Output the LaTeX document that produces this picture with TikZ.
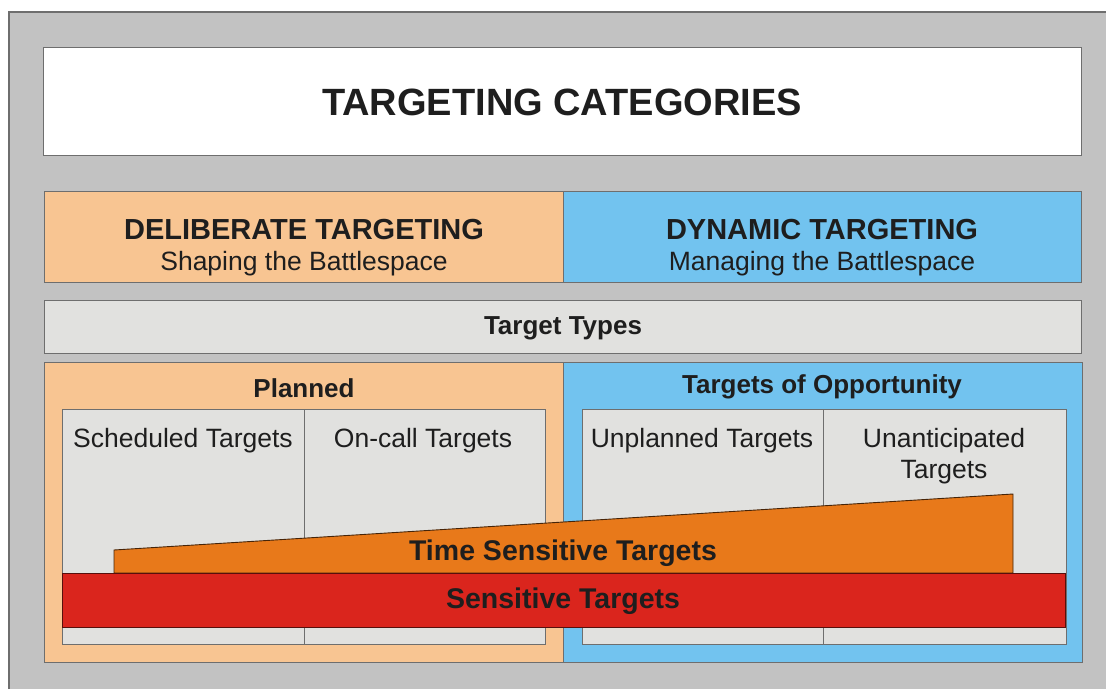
\documentclass[tikz,border=0pt]{standalone}
\usepackage{fontspec}
\setmainfont{Liberation Sans}
\definecolor{bggray}{HTML}{C2C2C2}
\definecolor{peach}{HTML}{F8C592}
\definecolor{skyblue}{HTML}{72C3EF}
\definecolor{lightgray}{HTML}{E1E1DF}
\definecolor{tsorange}{HTML}{E8791A}
\definecolor{sred}{HTML}{DA251D}
\definecolor{edgegray}{HTML}{6E6E6E}
\definecolor{ink}{HTML}{1E1E1E}
\begin{document}
\begin{tikzpicture}[x=1pt,y=-1pt,
  box/.style={draw=edgegray, line width=1.3pt, inner sep=0pt, anchor=north west},
  hdr/.style={text=ink, font=\fontsize{29}{33}\selectfont\bfseries},
  sub/.style={text=ink, font=\fontsize{26.5}{30}\selectfont},
  bhd/.style={text=ink, font=\fontsize{26}{30}\selectfont\bfseries},
  cell/.style={text=ink, font=\fontsize{26.5}{30}\selectfont, align=center}]
\useasboundingbox (0,0) rectangle (1106,689);
% background panel
\fill[bggray] (9,12) rectangle (1106,689);
\draw[edgegray, line width=1.2pt] (9,689) -- (9,12) -- (1106,12);
% title
\node[box, fill=white, minimum width=1038pt, minimum height=108pt] (titlebox) at (43,47) {};
\node[text=ink, font=\fontsize{38}{42}\selectfont\bfseries] (title) at (562,102) {TARGETING CATEGORIES};
% categories
\node[box, fill=peach, minimum width=519pt, minimum height=91pt] (delib) at (44,191) {};
\node[box, fill=skyblue, minimum width=518pt, minimum height=91pt] (dyn) at (563,191) {};
\node[hdr] (delibT) at (304,229.5) {DELIBERATE TARGETING};
\node[sub] (delibS) at (304,264) {Shaping the Battlespace};
\node[hdr] (dynT) at (822,229.5) {DYNAMIC TARGETING};
\node[sub] (dynS) at (822,264) {Managing the Battlespace};
% target types
\node[box, fill=lightgray, minimum width=1037pt, minimum height=53pt] (types) at (44,300) {};
\node[bhd] (typesT) at (563,328) {Target Types};
% planned / opportunity
\node[box, fill=peach, minimum width=519pt, minimum height=300pt] (planned) at (44,362) {};
\node[box, fill=skyblue, minimum width=519pt, minimum height=300pt] (opp) at (563,362) {};
\node[bhd] (plannedT) at (304,388) {Planned};
\node[bhd] (oppT) at (822,387) {Targets of Opportunity};
% cells
\node[box, fill=lightgray, minimum width=242pt, minimum height=235pt] (sched) at (62,409) {};
\node[box, fill=lightgray, minimum width=241pt, minimum height=235pt] (oncall) at (304,409) {};
\node[box, fill=lightgray, minimum width=241pt, minimum height=235pt] (unpl) at (582,409) {};
\node[box, fill=lightgray, minimum width=243pt, minimum height=235pt] (unant) at (823,409) {};
\node[cell] (schedT) at (183,441) {Scheduled Targets};
\node[cell] (oncallT) at (423,441) {On-call Targets};
\node[cell] (unplT) at (702,441) {Unplanned Targets};
\node[cell] (unantT1) at (944,441) {Unanticipated};
\node[cell] (unantT2) at (944,472) {Targets};
% time sensitive wedge
\draw[fill=tsorange, draw=black!70!tsorange, line width=0.9pt] (114,573) -- (114,550) -- (1013,494) -- (1013,573) -- cycle;
\node[text=ink, font=\fontsize{28.5}{32}\selectfont\bfseries] (tst) at (563,553) {Time Sensitive Targets};
% sensitive band
\node[draw=black!60!sred, line width=0.9pt, fill=sred, inner sep=0pt, anchor=north west, minimum width=1003pt, minimum height=54pt] (sens) at (62,573) {};
\node[text=ink, font=\fontsize{28.5}{32}\selectfont\bfseries] (sensT) at (563,601) {Sensitive Targets};
\end{tikzpicture}
\end{document}
